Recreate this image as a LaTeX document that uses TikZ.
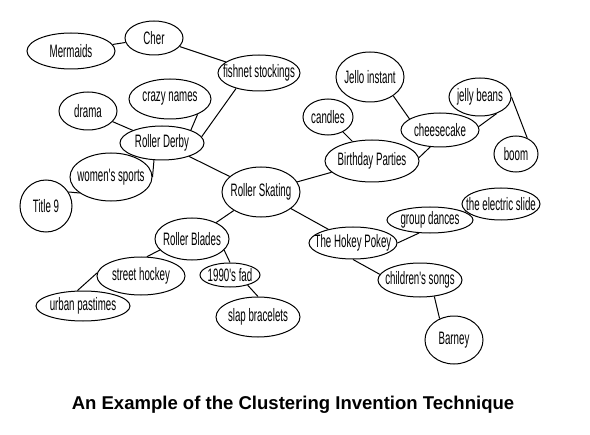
\documentclass[tikz,border=0pt]{standalone}
\usepackage{fontspec}
\setmainfont{Liberation Sans}
\newfontfamily\bubblefont[FakeStretch=0.54]{Liberation Sans}
\usetikzlibrary{shapes.geometric}
\newcommand{\bt}[1]{\makebox[0pt]{#1}}
\tikzset{
  bubble/.style={ellipse, draw=black, line width=0.75pt, inner sep=0pt, font=\bubblefont\fontsize{13.5}{15}\selectfont},
  link/.style={draw=black, line width=0.75pt},
  caption/.style={font=\bfseries\fontsize{13.9}{16}\selectfont},
}
\begin{document}
\begin{tikzpicture}[x=0.75pt, y=-0.75pt]
\useasboundingbox (0,0) rectangle (590,435);
\node[bubble, minimum width=43.5pt, minimum height=25.5pt] (cher) at (154,38) {\bt{Cher}};
\node[bubble, minimum width=66pt, minimum height=27pt] (mermaids) at (71,51) {\bt{Mermaids}};
\node[bubble, minimum width=61.5pt, minimum height=27pt] (fishnet) at (259,73) {\bt{fishnet stockings}};
\node[bubble, minimum width=61.5pt, minimum height=30pt] (crazy) at (170,99) {\bt{crazy names}};
\node[bubble, minimum width=43.5pt, minimum height=28.5pt] (drama) at (88,111) {\bt{drama}};
\node[bubble, minimum width=63pt, minimum height=25.5pt] (derby) at (162,143) {\bt{Roller Derby}};
\node[bubble, minimum width=61.5pt, minimum height=36pt] (womens) at (111,177) {\bt{women's sports}};
\node[bubble, minimum width=39pt, minimum height=39pt] (title) at (46,206) {\bt{Title 9}};
\node[bubble, minimum width=58.5pt, minimum height=37.5pt] (skating) at (261,192) {\bt{Roller Skating}};
\node[bubble, minimum width=51pt, minimum height=37.5pt] (jello) at (370,77) {\bt{Jello instant}};
\node[bubble, minimum width=37.5pt, minimum height=27pt] (candles) at (328,117) {\bt{candles}};
\node[bubble, minimum width=70.5pt, minimum height=31.5pt] (birthday) at (372,161) {\bt{Birthday Parties}};
\node[bubble, minimum width=58.5pt, minimum height=25.5pt] (cheesecake) at (440,130) {\bt{cheesecake}};
\node[bubble, minimum width=46.5pt, minimum height=28.5pt] (jelly) at (480,97) {\bt{jelly beans}};
\node[bubble, minimum width=33pt, minimum height=27pt] (boom) at (516,154) {\bt{boom}};
\node[bubble, minimum width=58.5pt, minimum height=24pt] (electric) at (501,204) {\bt{the electric slide}};
\node[bubble, minimum width=64.5pt, minimum height=19.5pt] (group) at (430,220) {\bt{group dances}};
\node[bubble, minimum width=66pt, minimum height=24pt] (hokey) at (353,243) {\bt{The Hokey Pokey}};
\node[bubble, minimum width=63pt, minimum height=25.5pt] (children) at (420,280) {\bt{children's songs}};
\node[bubble, minimum width=43.5pt, minimum height=36pt] (barney) at (454,340) {\bt{Barney}};
\node[bubble, minimum width=55.5pt, minimum height=31.5pt] (blades) at (192,239) {\bt{Roller Blades}};
\node[bubble, minimum width=66pt, minimum height=28.5pt] (street) at (141,276) {\bt{street hockey}};
\node[bubble, minimum width=45pt, minimum height=18pt] (fad) at (230,275) {\bt{1990's fad}};
\node[bubble, minimum width=70.5pt, minimum height=22.5pt] (urban) at (83,306) {\bt{urban pastimes}};
\node[bubble, minimum width=63pt, minimum height=30pt] (slap) at (258,317) {\bt{slap bracelets}};
\node[caption] (heading) at (293,405) {An Example of the Clustering Invention Technique};
\draw[link] (mermaids) -- (cher);
\draw[link] (cher) -- (fishnet);
\draw[link] (fishnet.214) -- (derby.9);
\draw[link] (crazy.-29) -- (derby.24);
\draw[link] (drama) -- (derby);
\draw[link] (derby.245) -- (womens.0);
\draw[link] (womens.207) -- (title.32);
\draw[link] (derby) -- (skating);
\draw[link] (skating) -- (birthday);
\draw[link] (candles) -- (birthday);
\draw[link] (birthday.4) -- (cheesecake.240);
\draw[link] (jello.-39) -- (cheesecake.160);
\draw[link] (cheesecake.5) -- (jelly.-45);
\draw[link] (jelly.0) -- (boom.55);
\draw[link] (skating) -- (hokey);
\draw[link] (hokey.0) -- (group.230);
\draw[link] (group) -- (electric);
\draw[link] (hokey.270) -- (children.172);
\draw[link] (children.-49) -- (barney.124);
\draw[link] (skating) -- (blades);
\draw[link] (blades.199) -- (street.73);
\draw[link] (street.176) -- (urban.110);
\draw[link] (blades.-19) -- (fad.90);
\draw[link] (fad.-30) -- (slap.90);
\end{tikzpicture}
\end{document}
